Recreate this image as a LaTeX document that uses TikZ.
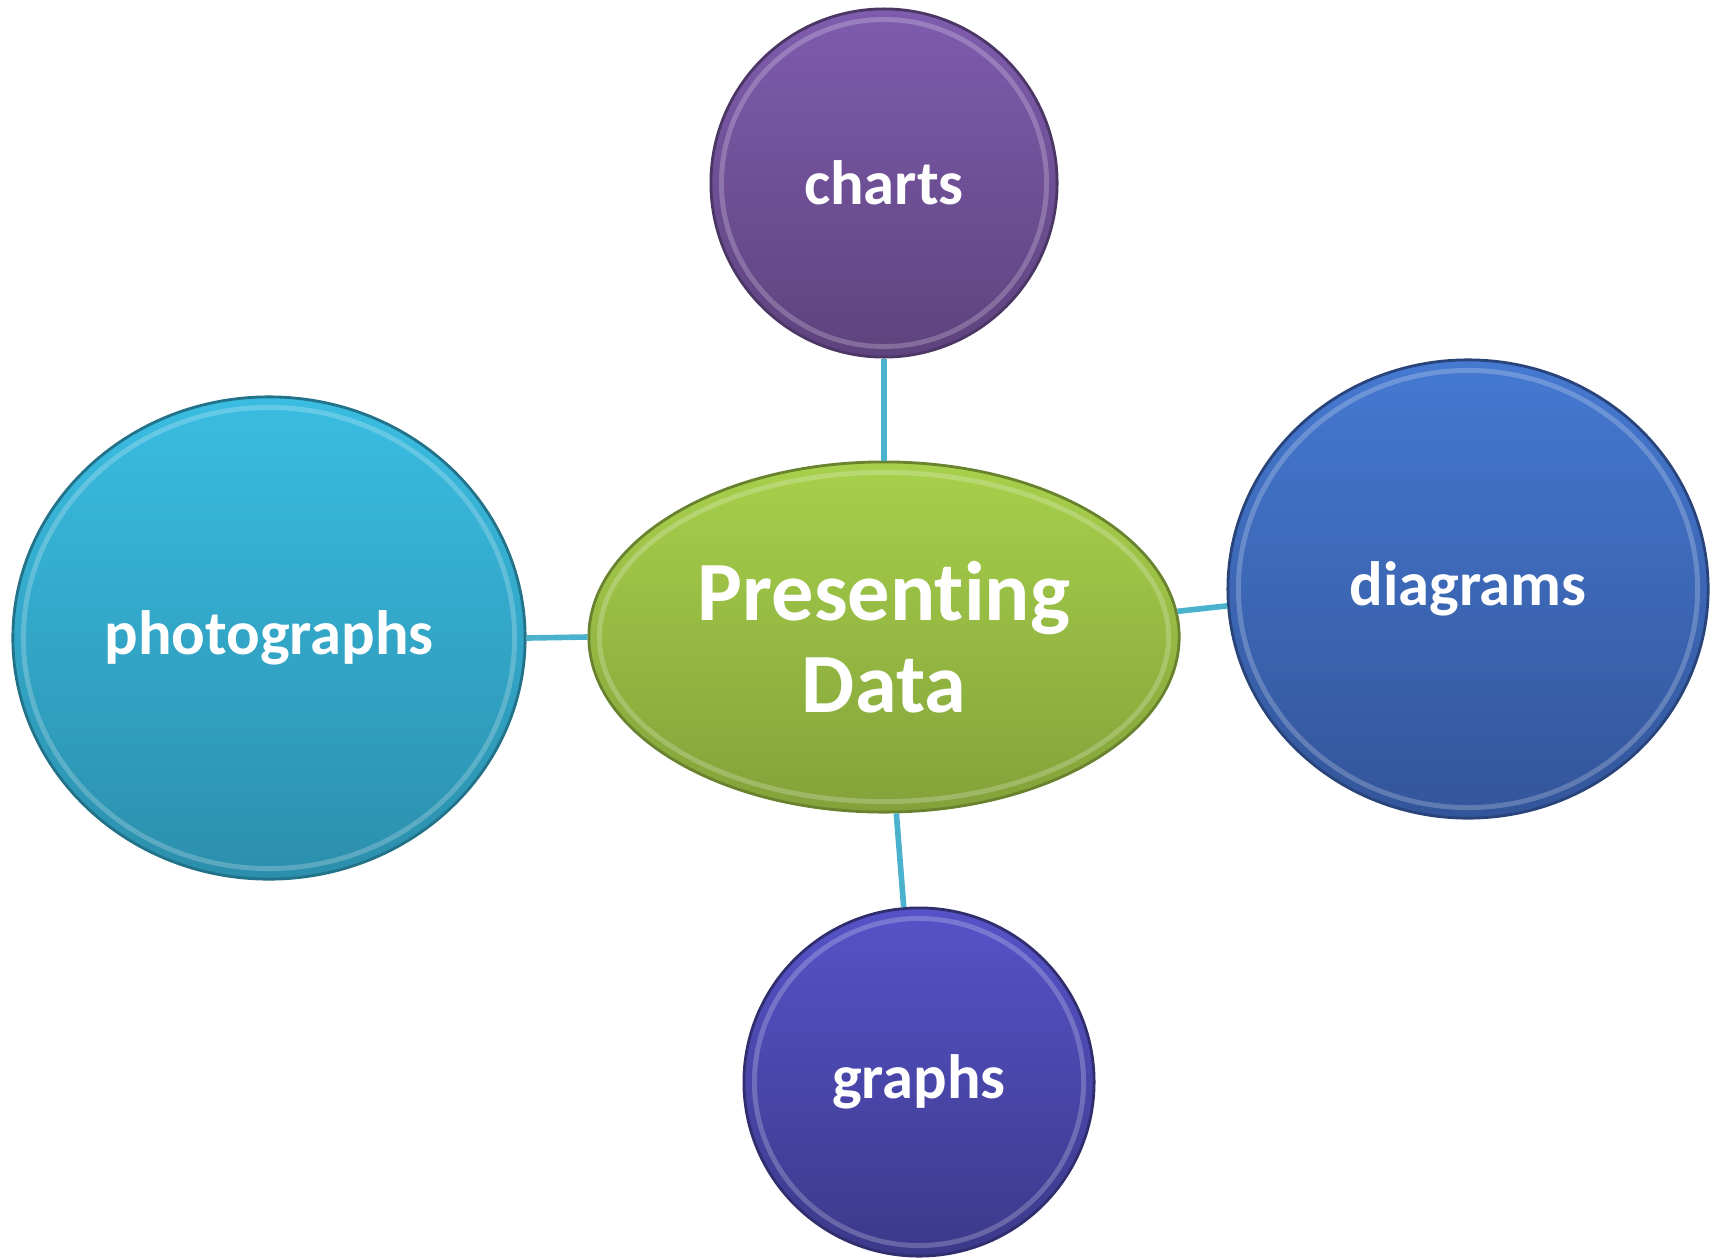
\documentclass[tikz,border=0pt]{standalone}
\usepackage{fontspec}
\setmainfont[Ligatures=NoCommon]{Carlito}
\usepackage{tikz}
\usetikzlibrary{shapes}
\usetikzlibrary{calc}

\definecolor{linkblue}{HTML}{4BB2CE}
\definecolor{chartstop}{HTML}{7F5CAE}
\definecolor{chartsbot}{HTML}{5E437E}
\definecolor{hubtop}{HTML}{A7D04B}
\definecolor{hubbot}{HTML}{83A23A}
\definecolor{phototop}{HTML}{3ABDE2}
\definecolor{photobot}{HTML}{2B8FAC}
\definecolor{diagtop}{HTML}{4579D1}
\definecolor{diagbot}{HTML}{33559A}
\definecolor{graphtop}{HTML}{5653C9}
\definecolor{graphbot}{HTML}{3C398A}

\begin{document}
\begin{tikzpicture}[x=0.01cm,y=-0.01cm]
    \tikzstyle{bubble}=[ellipse, inner sep=0pt, text=white, font=\fontsize{17.8}{20}\selectfont\bfseries,
      line width=0.8pt, align=center,
      path picture={\draw[white,opacity=.22,line width=1.4pt]
        let \p1=(path picture bounding box.north east), \p2=(path picture bounding box.south west) in
        (path picture bounding box.center) ellipse ({(\x1-\x2)/2-3pt} and {(\y1-\y2)/2-3pt});}]
    \tikzstyle{hub}=[bubble, font=\fontsize{24}{26}\selectfont\bfseries]
    \tikzstyle{link}=[draw=linkblue, line width=1.6pt]
    \useasboundingbox (0,0) rectangle (1716,1257);
    % center and the four satellites
    \node[hub, top color=hubtop, bottom color=hubbot, draw=hubbot!80!black,
          minimum width=5.90cm, minimum height=3.50cm] (hub) at (884,637) {Presenting\\Data};
    \node[bubble, top color=chartstop, bottom color=chartsbot, draw=chartsbot!80!black,
          minimum width=3.46cm, minimum height=3.48cm] (charts) at (884,183) {charts};
    \node[bubble, top color=phototop, bottom color=photobot, draw=photobot!80!black,
          minimum width=5.12cm, minimum height=4.82cm] (photos) at (269,638) {photographs};
    \node[bubble, top color=diagtop, bottom color=diagbot, draw=diagbot!80!black,
          minimum width=4.80cm, minimum height=4.58cm] (diagrams) at (1468,589) {diagrams};
    \node[bubble, top color=graphtop, bottom color=graphbot, draw=graphbot!80!black,
          minimum width=3.50cm, minimum height=3.48cm] (graphs) at (919,1082) {graphs};
    % connectors
    \draw[link] (charts.south) -- (hub.north);
    \draw[link] (photos.east) -- (hub.west);
    \draw[link] (hub.5) -- (diagrams.184);
    \draw[link] (hub.274) -- (graphs.95);
\end{tikzpicture}
\end{document}
